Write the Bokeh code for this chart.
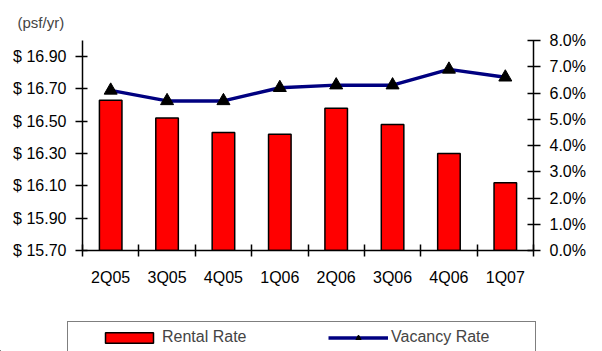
from bokeh.plotting import figure
from bokeh.layouts import column
from bokeh.models import (Range1d, LinearAxis, FixedTicker, PrintfTickFormatter,
                          NumeralTickFormatter, Legend, LegendItem, ColumnDataSource)
from bokeh.embed import file_html
from bokeh.resources import INLINE

quarters = ["2Q05", "3Q05", "4Q05", "1Q06", "2Q06", "3Q06", "4Q06", "1Q07"]
rental_rate = [16.63, 16.52, 16.43, 16.42, 16.58, 16.48, 16.30, 16.12]
vacancy_rate = [0.061, 0.057, 0.057, 0.062, 0.063, 0.063, 0.069, 0.066]
rent_ticks = [15.70, 15.90, 16.10, 16.30, 16.50, 16.70, 16.90]
vac_ticks = [0.0, 0.01, 0.02, 0.03, 0.04, 0.05, 0.06, 0.07, 0.08]

FONT = "Liberation Sans"
BAR_STYLE = dict(fill_color="#ff0000", line_color="black", line_width=1.5)
LINE_STYLE = dict(line_color="#000080", line_width=3.5)
MK_STYLE = dict(marker="triangle", size=13, fill_color="black", line_color="black")

xs = [i + 0.5 for i in range(len(quarters))]
src = ColumnDataSource(dict(x=xs, rent=rental_rate, vac=vacancy_rate))

p = figure(width=602, height=300, output_backend="svg", toolbar_location=None,
           x_range=Range1d(0, len(quarters)), y_range=Range1d(15.70, 17.00),
           min_border_left=82, min_border_right=69, min_border_top=40, min_border_bottom=50)
p.frame_align = False
p.xaxis.visible = False
p.yaxis.visible = False
p.grid.visible = False
p.outline_line_color = None
p.extra_y_ranges = {"vac": Range1d(0, 0.08)}

p.title.text = "(psf/yr)"
p.title.text_font = FONT
p.title.text_font_size = "15px"
p.title.text_font_style = "normal"
p.title.align = "left"
p.title.offset = -65
p.title.standoff = 20

p.vbar(x="x", top="rent", bottom=15.70, width=0.4, source=src, **BAR_STYLE)
p.line(x="x", y="vac", source=src, y_range_name="vac", **LINE_STYLE)
p.scatter(x="x", y="vac", source=src, y_range_name="vac", **MK_STYLE)

def style(ax, size="16px"):
    ax.axis_line_color = "black"
    ax.axis_line_width = 1.5
    ax.major_tick_line_color = "black"
    ax.major_tick_line_width = 1.5
    ax.minor_tick_line_color = None
    ax.major_label_text_font = FONT
    ax.major_label_text_font_size = size
    ax.major_label_text_color = "black"

left = LinearAxis(ticker=FixedTicker(ticks=rent_ticks),
                  formatter=PrintfTickFormatter(format="$ %.2f"))
style(left)
left.major_tick_in = 5
left.major_tick_out = 7
left.major_label_standoff = 9
p.add_layout(left, "left")

right = LinearAxis(y_range_name="vac", ticker=FixedTicker(ticks=vac_ticks),
                   formatter=NumeralTickFormatter(format="0.0%"))
style(right)
right.major_tick_in = 6
right.major_tick_out = 7
right.major_label_standoff = 9
p.add_layout(right, "right")

bottom = LinearAxis(ticker=FixedTicker(ticks=xs, minor_ticks=list(range(len(quarters) + 1))),
                    major_label_overrides={x: q for x, q in zip(xs, quarters)})
style(bottom)
bottom.major_tick_line_color = None
bottom.minor_tick_line_color = "black"
bottom.minor_tick_line_width = 1.5
bottom.minor_tick_in = 6
bottom.minor_tick_out = 6
bottom.major_label_standoff = 12
p.add_layout(bottom, "below")

# legend strip: same data, ranges set far away so only the legend is visible
q = figure(width=602, height=51, output_backend="svg", toolbar_location=None,
           x_axis_location=None, y_axis_location=None,
           x_range=Range1d(1000, 1001), y_range=Range1d(1000, 1001),
           min_border_left=0, min_border_right=0, min_border_top=0, min_border_bottom=0)
q.frame_align = False
q.grid.visible = False
q.outline_line_color = None
rb = q.vbar(x="x", top="rent", bottom=15.70, width=0.4, source=src, **BAR_STYLE)
rl = q.line(x="x", y="vac", source=src, **LINE_STYLE)
rm = q.scatter(x="x", y="vac", source=src, **MK_STYLE)

legend = Legend(items=[LegendItem(label="Rental Rate", renderers=[rb]),
                       LegendItem(label="Vacancy Rate", renderers=[rl, rm])],
                orientation="horizontal", location=(67, -2),
                title=" ", title_location="left", title_standoff=10,
                title_text_font_size="13px",
                padding=6, spacing=28, glyph_width=60, glyph_height=13,
                label_width=138, label_height=13, label_standoff=3,
                label_text_font=FONT, label_text_font_size="16px",
                border_line_color="black", border_line_width=1.5,
                background_fill_color="white", background_fill_alpha=1,
                margin=0)
q.add_layout(legend, "center")

layout = column(p, q, spacing=0)
open("out.html", "w").write(file_html(layout, INLINE))
